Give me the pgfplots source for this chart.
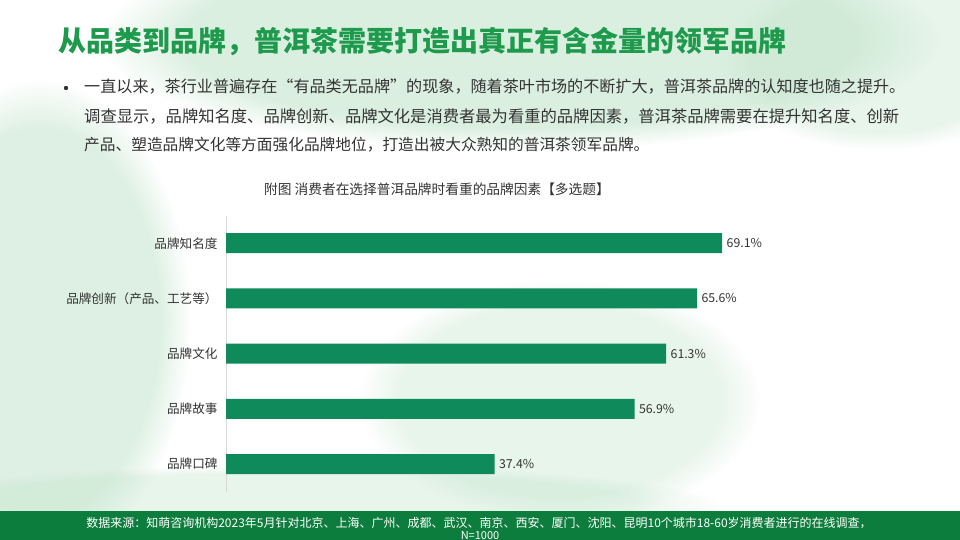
\documentclass[border=0pt]{standalone}
\usepackage{pgfplots}
\pgfplotsset{compat=1.18}
\usepackage{fontspec}
\setmainfont{Noto Sans CJK SC}
\usetikzlibrary{fadings}
\definecolor{titlegreen}{HTML}{1E9A4C}
\definecolor{bargreen}{HTML}{0F8A5A}
\definecolor{footgreen}{HTML}{0C7D3C}
\definecolor{txt}{HTML}{333333}
\definecolor{glow}{HTML}{BFE3C8}
\begin{document}
\begin{tikzpicture}[x=1pt,y=1pt]
\useasboundingbox (0,0) rectangle (960,-540);
\begin{scope}
\clip (0,0) rectangle (960,-540);
\fill[white] (0,0) rectangle (960,-540);
% soft green glows
\fill[glow,opacity=0.55,path fading=circle with fuzzy edge 20 percent] (520,-40) ellipse (420 and 110);
\fill[glow,opacity=0.5,path fading=circle with fuzzy edge 20 percent] (40,-320) ellipse (150 and 240);
\fill[glow,opacity=0.35,path fading=circle with fuzzy edge 20 percent] (880,-60) ellipse (160 and 90);
\fill[glow,opacity=0.35,path fading=circle with fuzzy edge 20 percent] (560,-400) ellipse (200 and 120);
\fill[glow,opacity=0.35,path fading=circle with fuzzy edge 20 percent] (300,-505) ellipse (420 and 40);
% footer
\fill[footgreen] (0,-511) rectangle (960,-540);
\end{scope}
% title
\node[anchor=west,inner sep=0pt,text=titlegreen,font=\fontsize{28}{32}\selectfont\bfseries] at (58,-42) {从品类到品牌，普洱茶需要打造出真正有含金量的领军品牌};
% bullet text
\fill[txt] (66,-88) circle (2.2);
\node[anchor=west,inner sep=0pt,text=txt,font=\fontsize{16.1}{18}\selectfont] at (84,-87) {一直以来，茶行业普遍存在“有品类无品牌”的现象，随着茶叶市场的不断扩大，普洱茶品牌的认知度也随之提升。};
\node[anchor=west,inner sep=0pt,text=txt,font=\fontsize{16.3}{18}\selectfont] at (84,-116) {调查显示，品牌知名度、品牌创新、品牌文化是消费者最为看重的品牌因素，普洱茶品牌需要在提升知名度、创新};
\node[anchor=west,inner sep=0pt,text=txt,font=\fontsize{15.7}{18}\selectfont] at (84,-145) {产品、塑造品牌文化等方面强化品牌地位，打造出被大众熟知的普洱茶领军品牌。};
% chart title
\node[anchor=center,inner sep=0pt,text=txt,font=\fontsize{13.7}{16}\selectfont] at (437,-189) {附图\ 消费者在选择普洱品牌时看重的品牌因素【多选题】};
% footer text
\node[anchor=center,inner sep=0pt,text=white,font=\fontsize{12}{14}\selectfont] at (479,-523) {数据来源：知萌咨询机构2023年5月针对北京、上海、广州、成都、武汉、南京、西安、厦门、沈阳、昆明10个城市18-60岁消费者进行的在线调查，};
\node[anchor=center,inner sep=0pt,text=white,font=\fontsize{11}{13}\selectfont] at (480,-535.5) {N=1000};
\begin{axis}[
  at={(226pt,-491.6pt)}, anchor=south west,
  scale only axis, width=718pt, height=276pt,
  xbar, bar width=20pt,
  xmin=0, xmax=100,
  ymin=-0.5, ymax=4.5, y dir=reverse,
  hide x axis,
  axis y line*=left,
  y axis line style={draw=black!15, -},
  ytick={0,1,2,3,4},
  yticklabels={品牌知名度,品牌创新（产品、工艺等）,品牌文化,品牌故事,品牌口碑},
  major tick length=0pt,
  yticklabel style={font=\fontsize{12.6}{14}\selectfont, text=txt, anchor=east, xshift=-5pt},
  point meta=explicit symbolic,
  nodes near coords={\pgfplotspointmeta},
  nodes near coords style={anchor=west, font=\fontsize{12.3}{14}\selectfont, text=txt, xshift=1pt},
  clip=false,
]
\addplot[fill=bargreen, draw=none] coordinates {
  (69.1,0) [69.1\%]
  (65.6,1) [65.6\%]
  (61.3,2) [61.3\%]
  (56.9,3) [56.9\%]
  (37.4,4) [37.4\%]
};
\end{axis}
\end{tikzpicture}
\end{document}
